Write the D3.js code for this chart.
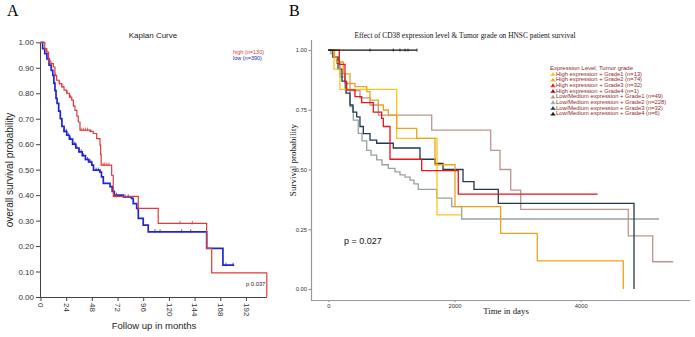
<!DOCTYPE html>
<html>
<head>
<meta charset="utf-8">
<script src="https://cdn.jsdelivr.net/npm/d3@7"></script>
<style>
  body { margin: 0; background: #fff; }
  svg { display: block; font-family: "Liberation Sans", Arial, sans-serif; }
</style>
</head>
<body>
<div id="chart"></div>
<script>
// ---- Panel A: Kaplan curve (months) ----
const kmTicksX = [0, 24, 48, 72, 96, 120, 144, 168, 192];
const kmTicksY = [0, 0.1, 0.2, 0.3, 0.4, 0.5, 0.6, 0.7, 0.8, 0.9, 1.0];
const kmLegend = ["high (n=130)", "low (n=390)"];
const kmPValue = "p 0.037";

const highMonths = [0, 4, 5.8, 7.5, 8.9, 12, 13.5, 15.1, 17.5, 19.8, 22, 24.5, 27, 29.2, 30.7, 32.2, 34, 35.3, 36.9, 46.3, 49.3, 52.5, 55.6, 56.2, 56.7, 66.5, 68, 91.4, 110, 155.3, 160, 211.5];
const highSurv   = [1, 0.975, 0.962, 0.93, 0.916, 0.903, 0.87, 0.851, 0.838, 0.825, 0.812, 0.8, 0.785, 0.773, 0.75, 0.733, 0.71, 0.687, 0.655, 0.65, 0.642, 0.622, 0.596, 0.56, 0.518, 0.478, 0.395, 0.348, 0.289, 0.191, 0.095, 0.095];
const highCensor = [6, 10, 14, 18, 21, 25, 28, 31, 38, 40, 42, 44, 47, 58.5, 60, 62, 64, 69, 71, 130.4, 141.9];

const lowMonths = [0, 2, 4, 6, 8, 10, 11.5, 12.5, 13.5, 14.5, 15.5, 17, 18.5, 20, 22, 24.5, 27, 30, 33, 36, 39, 42, 45, 48, 49.5, 55.6, 57, 58.7, 65, 67, 69, 77.4, 85, 86.7, 89.9, 91.4, 96, 100.7, 155.3, 170.5, 181];
const lowSurv   = [1, 0.975, 0.955, 0.935, 0.91, 0.89, 0.87, 0.84, 0.81, 0.78, 0.76, 0.73, 0.7, 0.67, 0.65, 0.635, 0.62, 0.6, 0.585, 0.57, 0.555, 0.54, 0.53, 0.518, 0.498, 0.49, 0.472, 0.446, 0.433, 0.415, 0.4, 0.393, 0.387, 0.367, 0.348, 0.309, 0.282, 0.256, 0.191, 0.125, 0.125];
const lowCensor = [22, 24, 26, 28, 30, 32, 34, 36, 38, 40, 42, 44, 46, 47, 52, 54, 71, 79, 82, 107, 111.7, 132, 140.4, 173.4, 180];

// ---- Panel B: CD38 expression & tumor grade (days) ----
const survTitle = "Effect of CD38 expression level & Tumor grade on HNSC patient survival";
const legendTitle = "Expression Level, Tumor grade";
const groupNames = [
  "High expression + Grade1 (n=13)",
  "High expression + Grade2 (n=74)",
  "High expression + Grade3 (n=32)",
  "High expression + Grade4 (n=1)",
  "Low/Medium expression + Grade1 (n=49)",
  "Low/Medium expression + Grade2 (n=228)",
  "Low/Medium expression + Grade3 (n=32)",
  "Low/Medium expression + Grade4 (n=6)"
];
const groupColors = ["#f7c51d", "#eda21c", "#e8141c", "#a50f15", "#bc9590", "#96a39b", "#22384f", "#111111"];
const groupDays = [
  [0, 90, 185, 1084, 1723, 2114],
  [0, 100, 130, 238, 344, 423, 609, 661, 792, 872, 951, 1084, 1401, 1691, 2008, 2732, 3312, 4675],
  [0, 174, 265, 292, 423, 529, 713, 846, 872, 978, 1480, 2060, 4269],
  [0, 50],
  [0, 74, 154, 185, 265, 344, 502, 661, 792, 1639, 2574, 2721, 2891, 3049, 4754, 5141, 5467],
  [0, 40, 74, 133, 185, 265, 344, 396, 475, 534, 609, 677, 767, 851, 951, 1057, 1136, 1216, 1295, 1358, 1426, 1718, 1956, 2114, 5241],
  [0, 74, 154, 217, 281, 344, 391, 450, 502, 555, 661, 767, 1030, 1453, 1691, 1818, 2135, 2309, 2694, 4845],
  [0, 1406]
];
const groupSurv = [
  [1, 0.92, 0.835, 0.63, 0.31, 0.31],
  [1, 0.97, 0.95, 0.9, 0.86, 0.847, 0.826, 0.79, 0.77, 0.749, 0.728, 0.672, 0.63, 0.52, 0.345, 0.233, 0.118, 0],
  [1, 0.94, 0.867, 0.833, 0.805, 0.78, 0.74, 0.714, 0.68, 0.543, 0.495, 0.397, 0.397],
  [1, 1],
  [1, 0.97, 0.95, 0.9, 0.86, 0.83, 0.8, 0.77, 0.728, 0.665, 0.58, 0.5, 0.414, 0.333, 0.222, 0.114, 0.114],
  [1, 0.985, 0.97, 0.944, 0.888, 0.833, 0.763, 0.707, 0.651, 0.62, 0.58, 0.56, 0.54, 0.52, 0.505, 0.49, 0.478, 0.468, 0.456, 0.44, 0.417, 0.38, 0.345, 0.293, 0.293],
  [1, 0.97, 0.92, 0.87, 0.82, 0.77, 0.74, 0.72, 0.68, 0.65, 0.623, 0.61, 0.59, 0.543, 0.526, 0.5, 0.449, 0.417, 0.358, 0],
  [1, 1]
];
const blackCensorDays = [661, 1030, 1136, 1216, 1263, 1406];
const dayTicks = [0, 2000, 4000];
const survTicks = [0, 0.25, 0.5, 0.75, 1];

const W = 695, H = 337;
const svg = d3.select("#chart").append("svg")
  .attr("width", W).attr("height", H)
  .attr("viewBox", `0 0 ${W} ${H}`);
svg.append("rect").attr("width", W).attr("height", H).attr("fill", "#fff");

// step value lookup for censor marks
function survAt(times, surv, t) {
  let i = d3.bisectRight(times, t) - 1;
  return surv[Math.max(0, i)];
}

// ================= Panel A =================
const xa = d3.scaleLinear().domain([0, 211.5]).range([40.5, 266.8]);
const ya = d3.scaleLinear().domain([0, 1]).range([297, 42.3]);
const gA = svg.append("g");

gA.append("text").attr("x", 7).attr("y", 16)
  .attr("font-family", "Liberation Serif, Times New Roman, serif")
  .attr("font-size", 16).text("A");

gA.append("text").attr("x", 153).attr("y", 38)
  .attr("text-anchor", "middle").attr("font-size", 8).attr("fill", "#222")
  .text("Kaplan Curve");

const axA_y = gA.append("g").attr("transform", "translate(40,0)")
  .call(d3.axisLeft(ya).tickValues(kmTicksY).tickFormat(d3.format(".2f")).tickSize(4).tickSizeOuter(0).tickPadding(2));
axA_y.selectAll("text").attr("font-size", 8).attr("fill", "#333");
axA_y.selectAll("line, path").attr("stroke", "#444");

const axA_x = gA.append("g").attr("transform", "translate(0,297)")
  .call(d3.axisBottom(xa).tickValues(kmTicksX).tickFormat(d3.format("d")).tickSize(4).tickSizeOuter(0));
axA_x.select(".domain").attr("d", `M40,0.5H${xa(211.5)}`);
axA_x.selectAll("text")
  .attr("font-size", 8).attr("fill", "#333")
  .attr("transform", "rotate(90)")
  .attr("x", 6).attr("y", 0).attr("dy", "0.35em")
  .attr("text-anchor", "start");
axA_x.selectAll("line, path").attr("stroke", "#444");

gA.append("text").attr("x", 154).attr("y", 329)
  .attr("text-anchor", "middle").attr("font-size", 9.5).attr("fill", "#222")
  .text("Follow up in months");
gA.append("text")
  .attr("transform", "translate(13,170) rotate(-90)")
  .attr("text-anchor", "middle").attr("font-size", 10).attr("fill", "#222")
  .text("overall survival probability");

const stepA = d3.line().x(d => xa(d[0])).y(d => ya(d[1])).curve(d3.curveStepAfter);
const kmSeries = [
  { t: highMonths, s: highSurv, c: highCensor, color: "#dd3b3b", w: 1.2 },
  { t: lowMonths, s: lowSurv, c: lowCensor, color: "#2424cc", w: 1.7 }
];
kmSeries.slice().reverse().forEach(sr => {
  gA.append("path")
    .datum(sr.t.map((t, i) => [t, sr.s[i]]))
    .attr("fill", "none").attr("stroke", sr.color).attr("stroke-width", sr.w)
    .attr("d", stepA);
  gA.selectAll(null).data(sr.c).enter().append("line")
    .attr("x1", d => xa(d)).attr("x2", d => xa(d))
    .attr("y1", d => ya(survAt(sr.t, sr.s, d)) - 2.5)
    .attr("y2", d => ya(survAt(sr.t, sr.s, d)) + 1)
    .attr("stroke", sr.color).attr("stroke-width", 0.8);
});
// closing edge of the p-value box
gA.append("line")
  .attr("x1", xa(211.5)).attr("x2", xa(211.5))
  .attr("y1", ya(highSurv[highSurv.length - 1])).attr("y2", ya(0))
  .attr("stroke", "#dd3b3b").attr("stroke-width", 1.2);
gA.append("text").attr("x", 246).attr("y", 285.5)
  .attr("font-size", 5.8).attr("fill", "#222").text(kmPValue);

kmLegend.forEach((txt, i) => {
  gA.append("text").attr("x", 233).attr("y", 53.5 + i * 6)
    .attr("font-size", 5.5).attr("fill", kmSeries[i].color).text(txt);
});

// ================= Panel B =================
const xb = d3.scaleLinear().domain([-274, 5732]).range([311, 690]);
const yb = d3.scaleLinear().domain([-0.046, 1.042]).range([300, 40]);
const gB = svg.append("g");
const serif = "Liberation Serif, Times New Roman, serif";

gB.append("text").attr("x", 289).attr("y", 16)
  .attr("font-family", serif).attr("font-size", 16).text("B");

gB.append("text").attr("x", 465).attr("y", 38)
  .attr("text-anchor", "middle").attr("font-family", serif).attr("font-size", 7.4).attr("fill", "#111")
  .text(survTitle);

const axB_y = gB.append("g").attr("transform", "translate(311,0)")
  .call(d3.axisLeft(yb).tickValues(survTicks).tickFormat(d3.format(".2f")).tickSize(2.5).tickSizeOuter(0).tickPadding(1.5));
axB_y.select(".domain").attr("d", "M0.5,40V300");
axB_y.selectAll("text").attr("font-size", 5.8).attr("fill", "#333");
axB_y.selectAll("line, path").attr("stroke", "#999").attr("stroke-width", 1.2);

const axB_x = gB.append("g").attr("transform", "translate(0,300)")
  .call(d3.axisBottom(xb).tickValues(dayTicks).tickFormat(d3.format("d")).tickSize(2).tickSizeOuter(0).tickPadding(1.5));
axB_x.select(".domain").attr("d", "M311,0.5H690");
axB_x.selectAll("text").attr("font-size", 5.8).attr("fill", "#333");
axB_x.selectAll("line, path").attr("stroke", "#999").attr("stroke-width", 1.2);

gB.append("text").attr("x", 506).attr("y", 314)
  .attr("text-anchor", "middle").attr("font-family", serif).attr("font-size", 8.8).attr("fill", "#111")
  .text("Time in days");
gB.append("text")
  .attr("transform", "translate(296,160) rotate(-90)")
  .attr("text-anchor", "middle").attr("font-family", serif).attr("font-size", 9).attr("fill", "#111")
  .text("Survival probability");

const stepB = d3.line().x(d => xb(d[0])).y(d => yb(d[1])).curve(d3.curveStepAfter);
const drawOrder = [5, 4, 6, 0, 1, 2, 3, 7];
drawOrder.forEach(k => {
  gB.append("path")
    .datum(groupDays[k].map((t, i) => [t, groupSurv[k][i]]))
    .attr("fill", "none").attr("stroke", groupColors[k]).attr("stroke-width", 1.3)
    .attr("d", stepB);
});
gB.selectAll(null).data(blackCensorDays).enter().append("line")
  .attr("x1", d => xb(d)).attr("x2", d => xb(d))
  .attr("y1", yb(1) - 1.5).attr("y2", yb(1) + 1.5)
  .attr("stroke", groupColors[7]).attr("stroke-width", 0.8);

gB.append("text").attr("x", 344).attr("y", 244)
  .attr("font-size", 9).attr("fill", "#111").text("p = 0.027");

// legend
const lg = gB.append("g").attr("transform", "translate(550,0)");
lg.append("text").attr("x", 0).attr("y", 70)
  .attr("font-size", 6).attr("fill", "#8f2a2a").text(legendTitle);
groupNames.forEach((name, i) => {
  const cy = 73.6 + i * 5.67;
  lg.append("path")
    .attr("d", `M1,${cy + 1.6}L3,${cy - 1.6}L5,${cy + 1.6}Z`)
    .attr("fill", groupColors[i]);
  lg.append("line").attr("x1", 0.5).attr("x2", 5.5).attr("y1", cy + 1.8).attr("y2", cy + 1.8)
    .attr("stroke", groupColors[i]).attr("stroke-width", 0.8);
  lg.append("text").attr("x", 6).attr("y", cy + 2)
    .attr("font-size", 5.8).attr("fill", "#8f2a2a").text(name);
});
</script>
</body>
</html>
